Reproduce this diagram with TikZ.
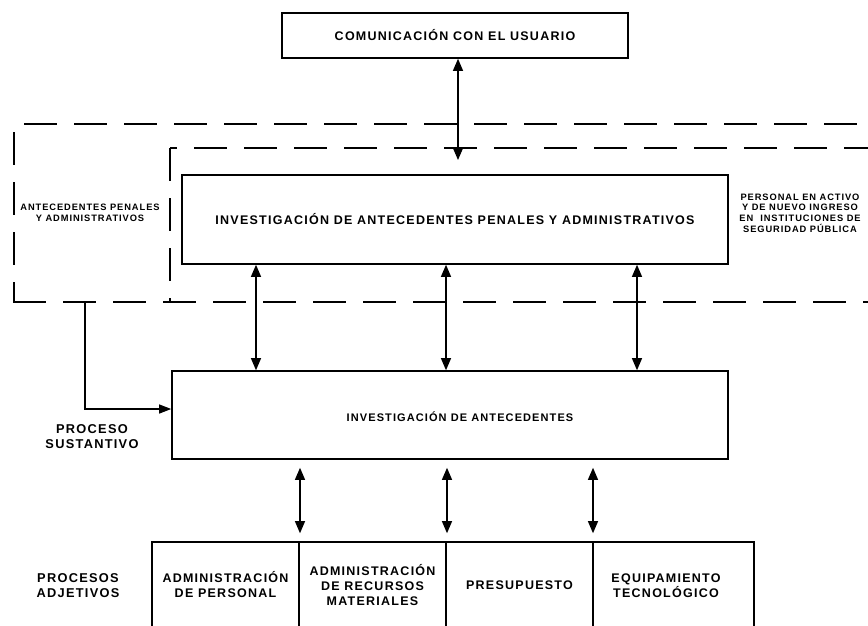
\documentclass[tikz,border=0pt]{standalone}
\usepackage{fontspec}
\setmainfont{Liberation Sans}
\newfontfamily\labfont{Liberation Sans}[LetterSpace=10]
\usetikzlibrary{arrows.meta}
\begin{document}
\begin{tikzpicture}[x=1pt,y=-1pt,
  box/.style={draw, line width=1.6pt, inner sep=0pt, align=center,
    font=\labfont\bfseries\fontsize{12.5}{15}\selectfont},
  biglab/.style={inner sep=0pt, align=center,
    font=\labfont\bfseries\fontsize{12.8}{15}\selectfont},
  smalllab/.style={inner sep=0pt, align=center,
    font=\labfont\bfseries\fontsize{9.3}{10.6}\selectfont},
  dline/.style={line width=1.3pt, dash pattern=on 33pt off 17pt},
  arr/.style={line width=1.1pt, {Triangle[width=10pt,length=12pt]}-{Triangle[width=10pt,length=12pt]}},
  conn/.style={line width=1.1pt, -{Triangle[width=9pt,length=12pt]}}]
\useasboundingbox (0,0) rectangle (868,625);
\clip (0,0) rectangle (868,625);

% dashed regions
\draw[dline, dash phase=40pt] (14,124) -- (868,124);
\draw[dline, dash phase=42pt] (14,124) -- (14,302);
\draw[dline] (13,302) -- (868,302);
\draw[dline, dash phase=26pt] (170,148) -- (868,148);
\draw[dline] (170,148) -- (170,302);

% boxes
\node[box, minimum width=346pt, minimum height=45pt] (com) at (455,35.5) {COMUNICACIÓN CON EL USUARIO};
\node[box, minimum width=546pt, minimum height=89pt] (iapa) at (455,219.5) {INVESTIGACIÓN DE ANTECEDENTES PENALES Y ADMINISTRATIVOS};
\node[box, minimum width=556pt, minimum height=88pt] (ia) at (450,415) {};
\node[inner sep=0pt, font=\labfont\bfseries\fontsize{11}{13}\selectfont] (iat) at (460,417) {INVESTIGACIÓN DE ANTECEDENTES};
\node[box, minimum width=147pt, minimum height=86pt] (b1) at (225.5,585) {ADMINISTRACIÓN\\DE PERSONAL};
\node[box, minimum width=147pt, minimum height=86pt] (b2) at (372.5,585) {ADMINISTRACIÓN\\DE RECURSOS\\MATERIALES};
\node[box, minimum width=147pt, minimum height=86pt] (b3) at (519.5,585) {PRESUPUESTO};
\node[box, minimum width=161pt, minimum height=86pt] (b4) at (673.5,585) {};
\node[inner sep=0pt, align=center, font=\labfont\bfseries\fontsize{12.5}{15}\selectfont] (b4t) at (666,585.5) {EQUIPAMIENTO\\TECNOLÓGICO};

% labels
\node[smalllab] (lap) at (90,213) {ANTECEDENTES PENALES\\Y ADMINISTRATIVOS};
\node[smalllab] (lper) at (800,213) {PERSONAL EN ACTIVO\\Y DE NUEVO INGRESO\\EN~ INSTITUCIONES DE\\SEGURIDAD PÚBLICA};
\node[biglab] (lsus) at (92,437) {PROCESO\\SUSTANTIVO};
\node[biglab] (ladj) at (78,585.5) {PROCESOS\\ADJETIVOS};

% connectors
\coordinate (ct) at (458,160);
\draw[arr] (ct |- com.south) -- (ct);
\draw[arr] (256,0 |- iapa.south) -- (256,0 |- ia.north);
\draw[arr] (446,0 |- iapa.south) -- (446,0 |- ia.north);
\draw[arr] (637,0 |- iapa.south) -- (637,0 |- ia.north);
\draw[arr, shorten <=8pt, shorten >=8pt] (300,0 |- ia.south) -- (300,0 |- b1.north);
\draw[arr, shorten <=8pt, shorten >=8pt] (447,0 |- ia.south) -- (447,0 |- b2.north);
\draw[arr, shorten <=8pt, shorten >=8pt] (593,0 |- ia.south) -- (593,0 |- b4.north);
\coordinate (ap) at (85,302);
\draw[conn] (ap) |- (ia.west |- 0,409);
\end{tikzpicture}
\end{document}
